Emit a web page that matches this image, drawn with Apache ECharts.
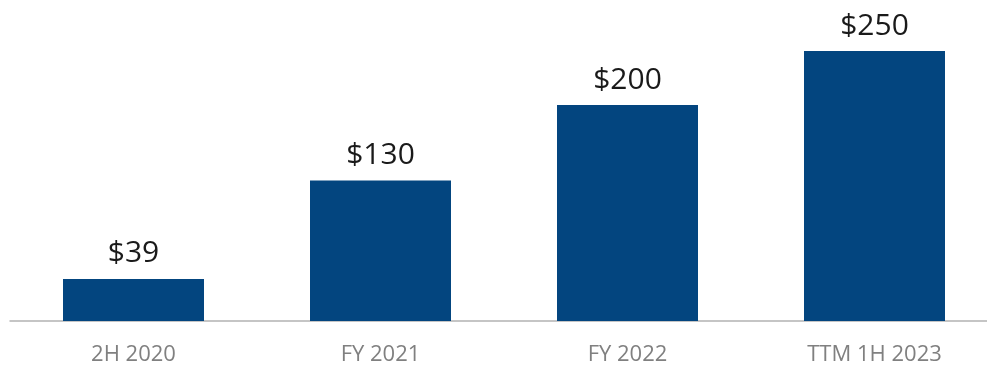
<!DOCTYPE html>
<html><head><meta charset="utf-8">
<style>html,body{margin:0;padding:0;background:#fff}#c{width:987px;height:368px}</style>
<script src="https://cdn.jsdelivr.net/npm/echarts@6/dist/echarts.min.js"></script>
</head><body><div id="c"></div>
<script>
var categories = ['2H 2020', 'FY 2021', 'FY 2022', 'TTM 1H 2023'];
var values = [39, 130, 200, 250];
var labelPrefix = '$';

var chart = echarts.init(document.getElementById('c'), null, {renderer: 'canvas'});
chart.setOption({
  animation: false,
  grid: {left: 10, width: 988, top: 18.6, bottom: 47, containLabel: false, outerBoundsMode: 'none'},
  xAxis: {
    type: 'category',
    data: categories,
    axisLine: {lineStyle: {color: '#b3b3b3', width: 1.5}},
    axisTick: {show: false},
    axisLabel: {color: '#808080', fontFamily: 'Open Sans', fontSize: 22, margin: 23}
  },
  yAxis: {type: 'value', min: 0, max: 280, show: false, splitLine: {show: false}},
  series: [{
    type: 'bar',
    data: values,
    barWidth: 141,
    itemStyle: {color: '#03457f'},
    label: {
      show: true, position: 'top', distance: 10,
      formatter: function(p){ return labelPrefix + p.value; },
      color: '#1a1a1a', fontFamily: 'Open Sans', fontSize: 30
    }
  }]
});
</script></body></html>
